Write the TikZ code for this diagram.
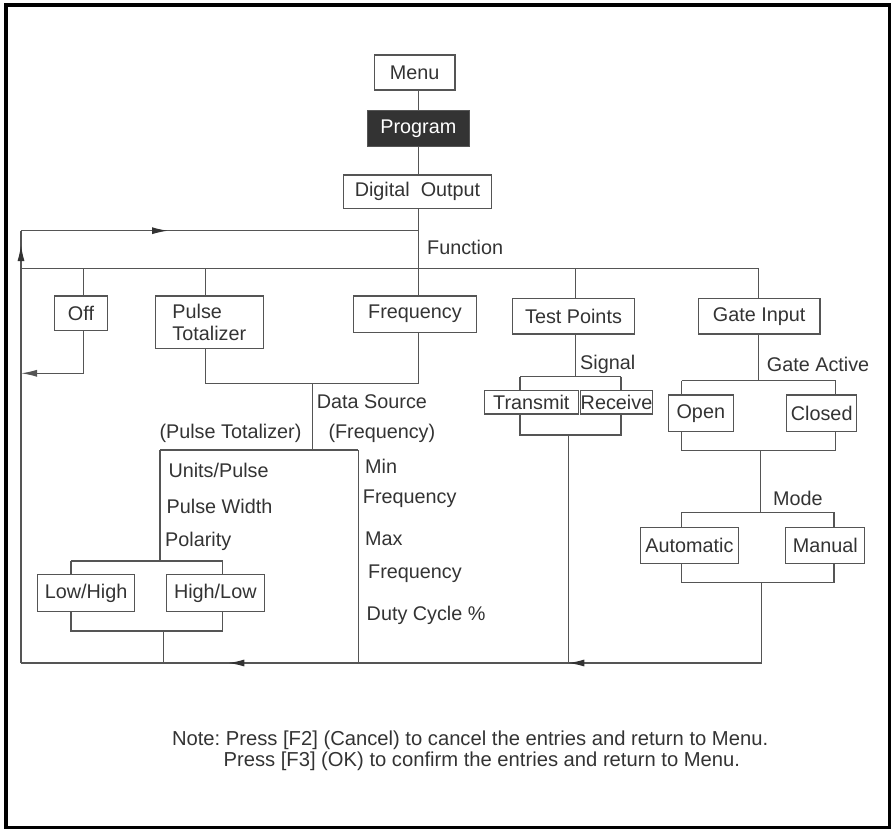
\documentclass[tikz,border=0pt]{standalone}
\usepackage{fontspec}
\setmainfont{Liberation Sans}
\usetikzlibrary{arrows.meta,decorations.markings}
\definecolor{txt}{HTML}{333333}
\definecolor{lncol}{HTML}{555555}
\frenchspacing
\begin{document}
\begin{tikzpicture}[x=1pt,y=-1pt,
  every node/.style={font=\fontsize{19.8}{21.5}\selectfont, text=txt},
  box/.style={draw=lncol, line width=1.2pt, inner sep=0pt},
  lbl/.style={anchor=west, inner sep=0pt},
  ln/.style={draw=lncol, line width=1.2pt},
  tipA/.style={-{Latex[length=16pt,width=7pt]}},
  markA/.style={postaction={decorate}, decoration={markings,
     mark=at position #1 with {\arrow[txt]{Latex[length=16pt,width=7pt]}}}},
  markB/.style 2 args={postaction={decorate}, decoration={markings,
     mark=at position #1 with {\arrow[txt]{Latex[length=16pt,width=7pt]}},
     mark=at position #2 with {\arrow[txt]{Latex[length=16pt,width=7pt]}}}}
]
\useasboundingbox (0,0) rectangle (891,829);
\draw[line width=3.6pt] (6,5) rectangle (889.5,827.5);

% boxes
\node[box, minimum width=80.7, minimum height=35] (menu) at (414.7,72.5) {Menu};
\node[box, fill=txt, text=white, minimum width=102, minimum height=36] (prog) at (418.3,128.7) {Program};
\node[box, minimum width=148.4, minimum height=33.3] (dig) at (417.5,191.7) {Digital\ \ Output};
\node[box, minimum width=53.4, minimum height=34.7] (off) at (81,313.3) {Off};
\node[box, minimum width=108, minimum height=52.3, align=left] (pt) at (209.3,322.2) {Pulse\\Totalizer};
\node[box, minimum width=123.4, minimum height=36.3] (freq) at (415,314.2) {Frequency};
\node[box, minimum width=121.6, minimum height=35.7] (tp) at (573.5,316.2) {Test Points};
\node[box, minimum width=121.7, minimum height=35.7] (gi) at (759.2,316.2) {Gate Input};
\node[box, minimum width=94, minimum height=23.3] (tx) at (531.3,402.3) {Transmit};
\node[box, minimum width=71.6, minimum height=23.3] (rx) at (616.5,402.3) {Receive};
\node[box, minimum width=65, minimum height=36.7] (open) at (700.8,413.3) {Open};
\node[box, minimum width=70, minimum height=36.7] (closed) at (821.7,413.3) {Closed};
\node[box, minimum width=97.2, minimum height=37.4] (lh) at (86.1,593) {Low/High};
\node[box, minimum width=97.7, minimum height=37.4] (hl) at (215.3,593) {High/Low};
\node[box, minimum width=98.3, minimum height=35.6] (auto) at (689.5,545.5) {Automatic};
\node[box, minimum width=79, minimum height=35.6] (man) at (825.3,545.5) {Manual};

% labels
\node[lbl] (lfun) at (427,247.3) {Function};
\node[lbl] (lds) at (316.7,401.7) {Data Source};
\node[lbl] (lpt) at (159.3,433.3) {(Pulse Totalizer)};
\node[lbl] (lfr) at (328.3,433.3) {(Frequency)};
\node[lbl] (lup) at (168.3,470.7) {Units/Pulse};
\node[lbl] (lpw) at (166.5,506.7) {Pulse Width};
\node[lbl] (lpol) at (165,541.7) {Polarity};
\node[lbl] (lmin) at (365,466.7) {Min};
\node[lbl] (lf1) at (362.7,499) {Frequency};
\node[lbl] (lmax) at (365,538.3) {Max};
\node[lbl] (lf2) at (368,574) {Frequency};
\node[lbl] (ldc) at (366.5,615) {Duty Cycle \%};
\node[lbl] (lsig) at (580,364) {Signal};
\node[lbl] (lga) at (766.7,364) {Gate Active};
\node[lbl] (lmode) at (773,498) {Mode};
\node[lbl, font=\fontsize{20.2}{22}\selectfont] (note1) at (171.8,740) {Note: Press [F2] (Cancel) to cancel the entries and return to Menu.};
\node[lbl, font=\fontsize{20.2}{22}\selectfont] (note2) at (223.4,761.7) {Press [F3] (OK) to confirm the entries and return to Menu.};

% coordinates
\coordinate (sp) at (418.3,0);
\coordinate (topL) at (21,230.7);
\coordinate (topJ) at (418.3,230.7);
\coordinate (barL) at (21,268.3);
\coordinate (barJ) at (418.3,268.3);
\coordinate (barR) at (758.5,268.3);
\coordinate (bOff) at (83.5,268.3);
\coordinate (bPT) at (205.7,268.3);
\coordinate (bTP) at (575.8,268.3);
\coordinate (botL) at (21,663);
\coordinate (botR) at (761.5,663);
\coordinate (offR) at (83.5,373.3);
\coordinate (jPT) at (205.7,383.3);
\coordinate (jFr) at (418.3,383.3);
\coordinate (dsJ) at (312.3,383.3);
\coordinate (dsB) at (312.3,450);
\coordinate (pL) at (160,450);
\coordinate (pR) at (358.3,450);
\coordinate (polJ) at (160,561);
\coordinate (polL) at (71,561);
\coordinate (polR) at (222.7,561);
\coordinate (lhB) at (71,631);
\coordinate (hlB) at (222.7,631);
\coordinate (pjB) at (163.6,631);
\coordinate (sgJ) at (575.8,376.7);
\coordinate (sgL) at (520,376.7);
\coordinate (sgR) at (621,376.7);
\coordinate (txB) at (520,435);
\coordinate (rxB) at (621,435);
\coordinate (tpOut) at (568.3,435);
\coordinate (gaJ) at (758.5,380.7);
\coordinate (gaL) at (681.7,380.7);
\coordinate (gaR) at (835.7,380.7);
\coordinate (opB) at (681.7,450.7);
\coordinate (clB) at (835.7,450.7);
\coordinate (giOut) at (760.7,450.7);
\coordinate (moJ) at (760.7,512.3);
\coordinate (moL) at (681.8,512.3);
\coordinate (moR) at (834,512.3);
\coordinate (auB) at (681.8,582.3);
\coordinate (maB) at (834,582.3);
\coordinate (moOut) at (761.5,582.3);

% spine
\draw[ln] (menu.south -| sp) -- (prog.north -| sp);
\draw[ln] (prog.south -| sp) -- (dig.north -| sp);
\draw[ln] (dig.south -| sp) -- (barJ);
\draw[ln, markA=147pt] (topL) -- (topJ);
\draw[ln] (barL) -- (barR);
% branches
\draw[ln] (bOff) -- (bOff |- off.north);
\draw[ln] (bPT) -- (bPT |- pt.north);
\draw[ln] (barJ) -- (freq.north -| barJ);
\draw[ln] (bTP) -- (bTP |- tp.north);
\draw[ln] (barR) -- (barR |- gi.north);
% off return
\draw[ln, tipA] (off.south -| offR) -- (offR) -- (offR -| barL);
% data source
\draw[ln] (pt.south -| jPT) -- (jPT) -- (jFr) -- (freq.south -| jFr);
\draw[ln] (dsJ) -- (dsB);
\draw[ln] (pL) -- (pR);
\draw[ln] (pL) -- (polJ);
\draw[ln] (polL) -- (polR);
\draw[ln] (polL) -- (polL |- lh.north);
\draw[ln] (polR) -- (polR |- hl.north);
\draw[ln] (lh.south -| lhB) -- (lhB) -- (hlB) -- (hl.south -| hlB);
\draw[ln] (pjB) -- (pjB |- botL);
\draw[ln] (pR) -- (pR |- botL);
% test points
\draw[ln] (tp.south -| sgJ) -- (sgJ);
\draw[ln] (sgL) -- (sgR);
\draw[ln] (sgL) -- (sgL |- tx.north);
\draw[ln] (sgR) -- (sgR |- rx.north);
\draw[ln] (tx.south -| txB) -- (txB) -- (rxB) -- (rx.south -| rxB);
\draw[ln] (tpOut) -- (tpOut |- botL);
% gate input
\draw[ln] (gi.south -| gaJ) -- (gaJ);
\draw[ln] (gaL) -- (gaR);
\draw[ln] (gaL) -- (gaL |- open.north);
\draw[ln] (gaR) -- (gaR |- closed.north);
\draw[ln] (open.south -| opB) -- (opB) -- (clB) -- (closed.south -| clB);
\draw[ln] (giOut) -- (moJ);
\draw[ln] (moL) -- (moR);
\draw[ln] (moL) -- (moL |- auto.north);
\draw[ln] (moR) -- (moR |- man.north);
\draw[ln] (auto.south -| auB) -- (auB) -- (maB) -- (man.south -| maB);
\draw[ln] (moOut) -- (botR);
% return bars
\draw[ln, markB={193.2pt}{533.2pt}] (botR) -- (botL);
\draw[ln, markA=418pt] (botL) -- (topL);
\end{tikzpicture}
\end{document}
